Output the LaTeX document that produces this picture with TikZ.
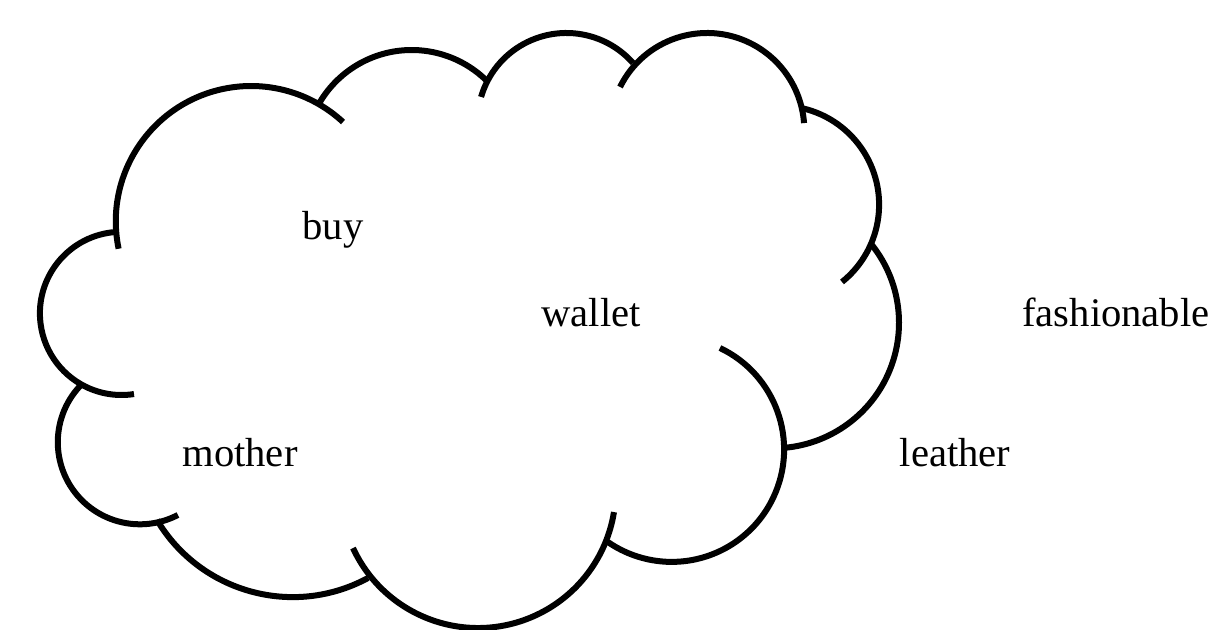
\documentclass[tikz,border=0pt]{standalone}
\usepackage{fontspec}
\setmainfont{Liberation Serif}
\begin{document}
\begin{tikzpicture}[x=0.5pt,y=-0.5pt,
  lobe/.style={line width=3pt,black},
  word/.style={font=\fontsize{20.3}{24}\selectfont,anchor=base,inner sep=0pt,text=black}]
\useasboundingbox (0,0) rectangle (1216,630);
% cloud outline, made of separate arcs
\draw[lobe] ([shift={(251.1,221.3)}]168.3:135.3) arc[start angle=168.3,end angle=312.8,radius=135.3];
\draw[lobe] ([shift={(411.7,156.9)}]210.9:106.9) arc[start angle=210.9,end angle=314,radius=106.9];
\draw[lobe] ([shift={(566.4,121.9)}]196.3:88.9) arc[start angle=196.3,end angle=318.5,radius=88.9];
\draw[lobe] ([shift={(707.1,130.2)}]206.4:97.2) arc[start angle=206.4,end angle=355.8,radius=97.2];
\draw[lobe] ([shift={(780.1,204.7)}]282.8:99) arc[start angle=282.8,end angle=411.3,radius=99];
\draw[lobe] ([shift={(773.5,322.8)}]-38.3:125.5) arc[start angle=-38.3,end angle=85.2,radius=125.5];
\draw[lobe] ([shift={(671.7,449.5)}]-64.6:112.4) arc[start angle=-64.6,end angle=124.6,radius=112.4];
\draw[lobe] ([shift={(478,490.3)}]155.2:137.7) arc[start angle=155.2,end angle=9.1,radius=137.7];
\draw[lobe] ([shift={(292.7,439.1)}]149.2:158) arc[start angle=149.2,end angle=61.5,radius=158];
\draw[lobe] ([shift={(139.9,442.2)}]226.1:82.1) arc[start angle=226.1,end angle=62.4,radius=82.1];
\draw[lobe] ([shift={(121.5,313.4)}]266.1:81.6) arc[start angle=266.1,end angle=81.2,radius=81.6];
% words
\node[word] (buy) at (333,240) {buy};
\node[word] (wallet) at (591,327) {wallet};
\node[word] (fashionable) at (1116,327) {fashionable};
\node[word] (mother) at (240,467) {mother};
\node[word] (leather) at (955,467) {leather};
\end{tikzpicture}
\end{document}
